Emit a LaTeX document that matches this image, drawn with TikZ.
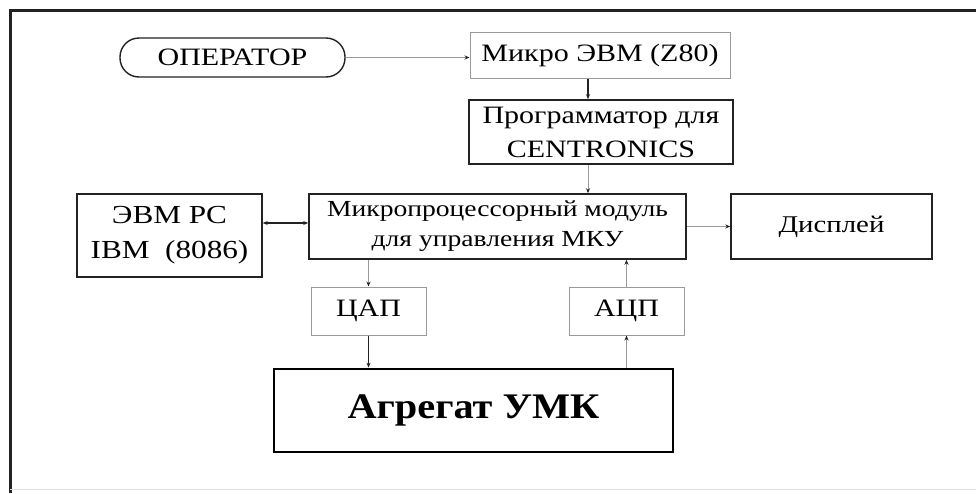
\documentclass[tikz,border=0pt]{standalone}
\usepackage{fontspec}
\setmainfont[FakeStretch=1.2]{Liberation Serif}
\newfontfamily\aggfont[FakeStretch=1.12]{Liberation Serif}
\usetikzlibrary{arrows.meta}
\definecolor{lightline}{HTML}{9A9A9A}
\definecolor{darkline}{HTML}{222222}
\begin{document}
\begin{tikzpicture}[x=1pt,y=-1pt,
  box/.style={draw=darkline, line width=1.6pt, inner sep=0pt, align=center, anchor=center},
  lightbox/.style={draw=lightline, line width=1pt, inner sep=0pt, align=center, anchor=center},
  conn/.style={lightline, line width=1pt, -{Stealth[length=5pt,width=4pt,color=darkline]}},
  darkconn/.style={darkline, line width=1.4pt, -{Stealth[length=5pt,width=4pt]}},
  txt/.style={font=\fontsize{25}{33}\selectfont}
]
\useasboundingbox (0,0) rectangle (976,493);
\fill[white] (0,0) rectangle (976,493);
% frame
\coordinate (ftl) at (10,10);
\coordinate (ftr) at (976,10);
\coordinate (fbl) at (10,493);
\coordinate (fbr) at (976,489);
\draw[darkline, line width=3pt] (ftr) -- (ftl) -- (fbl);
\draw[black!12, line width=1pt] (10,489) -- (fbr);

% nodes
\node[box, line width=1.4pt, rounded corners=19pt, minimum width=225pt, minimum height=39pt, txt] (op) at (232.5,57.5) {ОПЕРАТОР};
\node[lightbox, minimum width=260pt, minimum height=46pt, txt] (micro) at (600,55) {Микро ЭВМ (Z80)};
\node[box, minimum width=264pt, minimum height=64pt, font=\fontsize{25}{34}\selectfont] (prog) at (601,132) {Программатор для\\CENTRONICS};
\node[box, minimum width=377pt, minimum height=65pt, font=\fontsize{23}{30}\selectfont] (mod) at (497.5,226.5) {Микропроцессорный модуль\\для управления МКУ};
\node[box, line width=1.4pt, minimum width=185pt, minimum height=83pt, font=\fontsize{26}{35}\selectfont] (pc) at (169.5,235.5) {ЭВМ PC\\IBM\ \ (8086)};
\node[box, line width=1.4pt, minimum width=201pt, minimum height=65pt, font=\fontsize{24}{30}\selectfont] (disp) at (831.5,226.5) {Дисплей};
\node[lightbox, minimum width=115pt, minimum height=48pt, txt] (dac) at (368.5,311) {ЦАП};
\node[lightbox, minimum width=115pt, minimum height=48pt, txt] (adc) at (626.5,311) {АЦП};
\node[box, draw=black, line width=2.8pt, minimum width=399pt, minimum height=83pt, font=\aggfont\bfseries\fontsize{36}{40}\selectfont] (agg) at (473.5,410.5) {Агрегат УМК};

% helper coordinates
\coordinate (cx) at (588,0);
\coordinate (cy) at (0,223);

% connectors
\draw[conn] (op.east) -- (op.east -| micro.west);
\draw[darkconn] (micro.south -| cx) -- (prog.north -| cx);
\draw[conn] (prog.south -| cx) -- (mod.north -| cx);
\draw[darkline, line width=1.8pt, {Stealth[length=5pt,width=4pt]}-{Stealth[length=5pt,width=4pt]}] (pc.east |- cy) -- (mod.west |- cy);
\draw[conn] (mod.east) -- (disp.west);
\draw[conn] (dac.north |- mod.south) -- (dac.north);
\draw[darkconn] (dac.south) -- (dac.south |- agg.north);
\draw[conn] (adc.south |- agg.north) -- (adc.south);
\draw[conn] (adc.north) -- (adc.north |- mod.south);
\end{tikzpicture}
\end{document}
